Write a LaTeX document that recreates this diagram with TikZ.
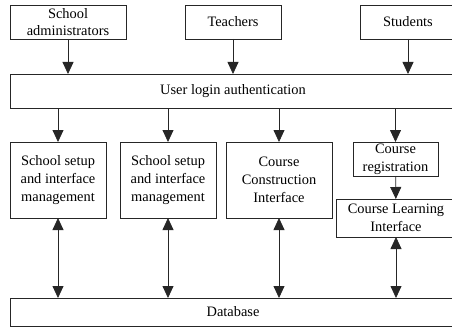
\documentclass[tikz,border=0pt]{standalone}
\usepackage{fontspec}
\setmainfont{Liberation Serif}
\usetikzlibrary{arrows.meta}
\begin{document}
\begin{tikzpicture}[x=1pt,y=-1pt,
  box/.style={draw=black!85, line width=0.8pt, rectangle, inner sep=0pt, outer sep=0pt,
    align=center, font=\fontsize{14.4}{17.7}\selectfont},
  tip/.style={Triangle[length=12pt,width=11pt]},
  arr/.style={draw=black!85, line width=0.8pt, -{Triangle[length=12pt,width=11pt]}},
  darr/.style={draw=black!85, line width=0.8pt, {Triangle[length=12pt,width=11pt]}-{Triangle[length=12pt,width=11pt]}}]
\useasboundingbox (0,0) rectangle (452,329);
% users
\node[box, minimum width=116pt, minimum height=34pt] (admin) at (68,22) {School\\administrators};
\node[box, minimum width=96pt, minimum height=34pt] (teach) at (233,22) {Teachers};
\node[box, minimum width=96pt, minimum height=34pt] (stud) at (408,22) {Students};
% login layer
\node[box, minimum width=446pt, minimum height=34pt] (login) at (233,91) {User login authentication};
% function modules
\node[box, minimum width=96pt, minimum height=76pt] (m1) at (58,180) {School setup\\and interface\\management};
\node[box, minimum width=96pt, minimum height=76pt] (m2) at (168,180) {School setup\\and interface\\management};
\node[box, minimum width=106pt, minimum height=76pt] (m3) at (279,180) {Course\\Construction\\Interface};
\node[box, minimum width=85pt, minimum height=34pt] (reg) at (395.5,159) {Course\\registration};
\node[box, minimum width=120pt, minimum height=38pt] (learn) at (396,218) {Course Learning\\Interface};
% storage
\node[box, minimum width=446pt, minimum height=28pt] (db) at (233,312) {Database};
% user to login
\draw[arr] (admin) -- (admin |- login.north);
\draw[arr] (teach) -- (teach |- login.north);
\draw[arr] (stud) -- (stud |- login.north);
% login to modules
\draw[arr] (login.south -| m1) -- (m1);
\draw[arr] (login.south -| m2) -- (m2);
\draw[arr] (login.south -| m3) -- (m3);
\draw[arr] (login.south -| reg) -- (reg);
\draw[arr] (reg) -- (learn);
% modules to database
\draw[darr] (m1) -- (m1 |- db.north);
\draw[darr] (m2) -- (m2 |- db.north);
\draw[darr] (m3) -- (m3 |- db.north);
\draw[darr] (learn) -- (learn |- db.north);
\end{tikzpicture}
\end{document}
